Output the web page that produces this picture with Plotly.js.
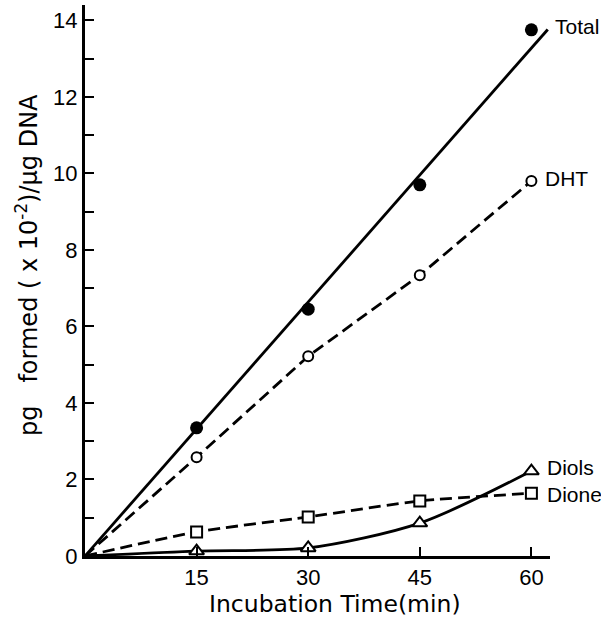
<!DOCTYPE html>
<html>
<head>
<meta charset="utf-8">
<script src="https://cdn.plot.ly/plotly-3.0.1.min.js"></script>
<style>html,body{margin:0;padding:0;background:#fff}#chart{width:601px;height:620px}</style>
</head>
<body>
<div id="chart"></div>
<script>
// Data
var times = [15, 30, 45, 60];
var total = [3.35, 6.45, 9.7, 13.75];
var dht = [2.58, 5.22, 7.34, 9.8];
var dione = [0.63, 1.02, 1.44, 1.64];
var diols = [0.13, 0.21, 0.86, 2.22];
var totalFitX = [0, 62.2];
var totalFitY = [0, 13.76];
var seriesNames = ["Total", "DHT", "Diols", "Dione"];
var xTickVals = [15, 30, 45, 60];
var yTickVals = [0, 2, 4, 6, 8, 10, 12, 14];
var xTitle = 'Incubation Time(min)';
var yTitle = 'pg\u00a0\u00a0\u00a0formed ( x 10<sup>-2</sup>)/μg DNA';

var X_MAX = 62.5, Y_MAX = 14.4;
var withOrigin = function(a){ return [0].concat(a); };
var lx = withOrigin(times);

var traces = [
  {x: totalFitX, y: totalFitY, mode: 'lines', line: {color: '#000', width: 2.8}},
  {x: lx, y: withOrigin(dht), mode: 'lines', line: {color: '#000', width: 2.8, dash: '12px,6px'}},
  {x: lx, y: withOrigin(dione), mode: 'lines', line: {color: '#000', width: 2.8, dash: '12px,6px', shape: 'spline', smoothing: 0.6}},
  {x: lx, y: withOrigin(diols), mode: 'lines', line: {color: '#000', width: 2.8, shape: 'spline', smoothing: 0.8}},
  {x: times, y: total, mode: 'markers', marker: {symbol: 'circle', size: 13, color: '#000'}, cliponaxis: false},
  {x: times, y: dht, mode: 'markers', marker: {symbol: 'circle', size: 10, color: '#fff', line: {width: 2, color: '#000'}}, cliponaxis: false},
  {x: times, y: dione, mode: 'markers', marker: {symbol: 'square', size: 11, color: '#fff', line: {width: 2, color: '#000'}}, cliponaxis: false},
  {x: times, y: diols, mode: 'markers', marker: {symbol: 'triangle-up', size: 13, color: '#fff', line: {width: 2, color: '#000'}}, cliponaxis: false}
];

// label anchor points in data units, converted to paper coords so they are never clipped
var labelPos = [
  {x: 62.9, y: 13.85},
  {x: 61.6, y: 9.87},
  {x: 61.8, y: 2.3},
  {x: 61.8, y: 1.6}
];
var annotations = seriesNames.map(function(n, i){
  return {x: labelPos[i].x / X_MAX, y: labelPos[i].y / Y_MAX, xref: 'paper', yref: 'paper', text: n, showarrow: false,
    xanchor: 'left', yanchor: 'middle', font: {family: 'Liberation Sans, Arial, sans-serif', size: 21, color: '#000'}};
});
annotations.push({x: 0.538, y: -0.087, xref: 'paper', yref: 'paper', text: xTitle, showarrow: false,
  xanchor: 'center', yanchor: 'middle', font: {family: 'DejaVu Sans, sans-serif', size: 23.5, color: '#000'}});
annotations.push({x: -0.125, y: 0.528, xref: 'paper', yref: 'paper', text: yTitle, showarrow: false, textangle: -90,
  xanchor: 'center', yanchor: 'middle', font: {family: 'DejaVu Sans, sans-serif', size: 24, color: '#000'}});

var layout = {
  width: 601, height: 620,
  margin: {l: 85, r: 51, t: 5, b: 64},
  paper_bgcolor: '#fff', plot_bgcolor: '#fff',
  showlegend: false,
  font: {family: 'Liberation Sans, Arial, sans-serif', color: '#000'},
  xaxis: {
    range: [0, X_MAX], showgrid: false, zeroline: false, showline: true, linewidth: 3, linecolor: '#000',
    tickmode: 'array', tickvals: xTickVals, ticks: 'inside', ticklen: 9, tickwidth: 2, tickcolor: '#000',
    tickfont: {size: 22}
  },
  yaxis: {
    range: [0, Y_MAX], showgrid: false, zeroline: false, showline: true, linewidth: 3, linecolor: '#000',
    tickmode: 'array', tickvals: yTickVals, ticks: 'inside', ticklen: 9, tickwidth: 2, tickcolor: '#000',
    tickfont: {size: 22},
    minor: {dtick: 1, tick0: 0, ticks: 'inside', ticklen: 9, tickwidth: 2, tickcolor: '#000', showgrid: false}
  },
  annotations: annotations
};

Plotly.newPlot('chart', traces, layout, {staticPlot: true, displayModeBar: false});
</script>
</body>
</html>
